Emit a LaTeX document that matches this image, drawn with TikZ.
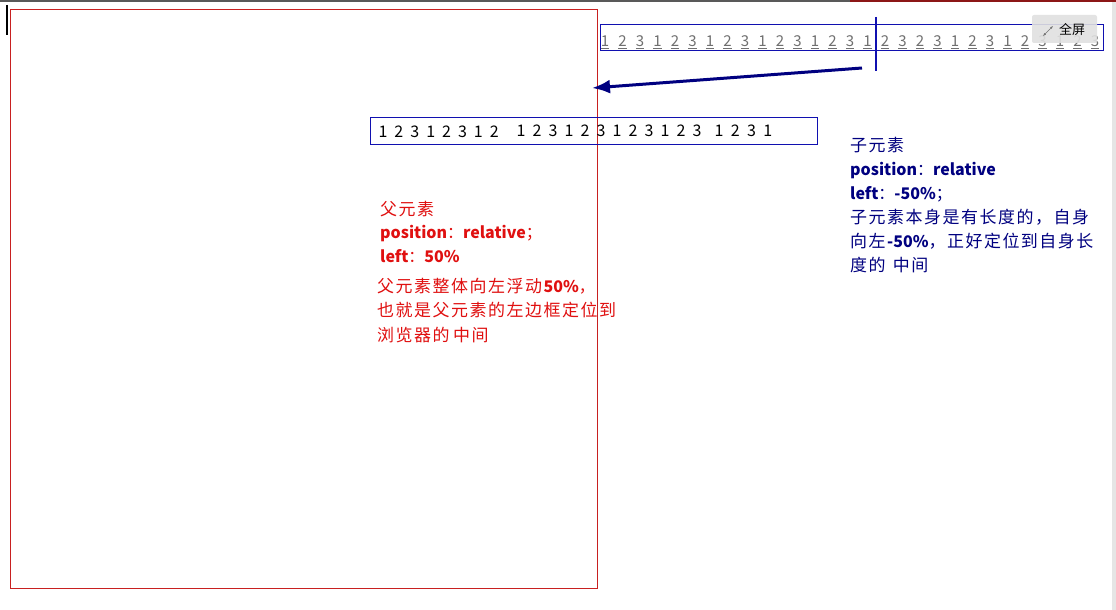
\documentclass[tikz,border=0pt]{standalone}
\usepackage{fontspec}
\setmainfont{Noto Sans CJK SC}
\newfontfamily\cjkwide{Noto Sans CJK SC}[LetterSpace=9, Scale=1.06]
\usetikzlibrary{arrows.meta}
\definecolor{parentred}{HTML}{E01010}
\definecolor{boxred}{HTML}{C82020}
\definecolor{childnavy}{HTML}{000080}
\definecolor{boxblue}{HTML}{1010B0}
\definecolor{linkgray}{HTML}{707070}
\newcommand{\zh}[1]{{\cjkwide #1}}
\tikzset{
  parenttext/.style={text=parentred, align=left, anchor=base west, inner sep=0pt, font=\fontsize{16}{23.5}\selectfont},
  childtext/.style={text=childnavy, align=left, anchor=base west, inner sep=0pt, font=\fontsize{16}{24}\selectfont},
  rowdigit/.style={anchor=base, inner sep=0pt, font=\fontsize{16}{20}\selectfont},
  linkdigit/.style={text=linkgray, anchor=base, inner sep=0pt, font=\fontsize{15}{18}\selectfont}
}
\begin{document}
\begin{tikzpicture}[x=1pt,y=-1pt]
\useasboundingbox (0,0) rectangle (1116,610);
\fill[white] (0,0) rectangle (1116,610);
\fill[black!65] (0,0) rectangle (850,2);
\fill[boxred!70!black] (850,0) rectangle (1116,2);
\fill[black!10] (1112,2) rectangle (1116,610);
\draw[black, line width=1.5pt] (7,5) -- (7,35);
\draw[boxred, line width=1pt] (10,10) rectangle (597,588);
\draw[boxblue, line width=1pt] (600,25) rectangle (1103,51);
\foreach \d [count=\i from 0] in {1,2,3,1,2,3,1,2,3,1,2,3,1,2,3,1,2,3,2,3,1,2,3,1,2,3,1,2,3}
  \node[linkdigit] (ld\i) at ({605+17.5*\i},47) {\underline{\d}};
\draw[boxblue, line width=1.5pt] (876,17) -- (876,71);
\fill[black!12, opacity=0.9, rounded corners=2pt] (1032,15) rectangle (1097,43);
\draw[black!55, {Latex[length=3pt]}-{Latex[length=3pt]}] (1043,36) -- (1053,26);
\node[inner sep=0pt, font=\fontsize{13}{15}\selectfont] (fullscreen) at (1072,30) {全屏};
\coordinate (arrowtail) at (862,68);
\coordinate (arrowhead) at (592,88);
\draw[childnavy, line width=3pt, -{Latex[length=18pt,width=14pt]}] (arrowtail) -- (arrowhead);
\draw[boxblue, line width=1pt] (370,117) rectangle (817,144);
\foreach \d [count=\i from 0] in {1,2,3,1,2,3,1,2}
  \node[rowdigit] (ra\i) at ({383+15.9*\i},137) {\d};
\foreach \d [count=\i from 0] in {1,2,3,1,2,3,1,2,3,1,2,3}
  \node[rowdigit] (rb\i) at ({521+16*\i},136) {\d};
\foreach \d [count=\i from 0] in {1,2,3,1}
  \node[rowdigit] (rc\i) at ({719+16.3*\i},136) {\d};
\node[parenttext] (parentcss) at (380,262) {\zh{父元素}\\ \textbf{position}：\textbf{relative}；\\ \textbf{left}：\textbf{50\%}};
\node[parenttext, font=\fontsize{16}{24.5}\selectfont] (parentnote) at (377,341) {\zh{父元素整体向左浮动}\textbf{50\%}，\\ \zh{也就是父元素的左边框定位到}\\ \zh{浏览器的} \zh{中间}};
\node[childtext] (childcss) at (850,271) {\zh{子元素}\\ \textbf{position}：\textbf{relative}\\ \textbf{left}：\textbf{-50\%}；\\ \zh{子元素本身是有长度的，自身}\\ \zh{向左}\textbf{-50\%}\zh{，正好定位到自身长}\\ \zh{度的}\ \ \zh{中间}};
\end{tikzpicture}
\end{document}
